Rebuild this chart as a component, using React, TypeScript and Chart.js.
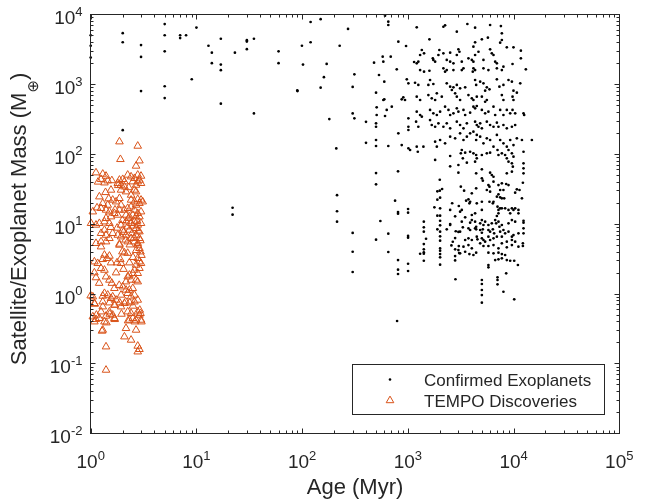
import React, { useEffect, useRef } from "react";
import { Chart, registerables } from "chart.js";

Chart.register(...registerables);

// Values, stored as [log10(age / Myr), log10(mass / M_earth)].
const exoplanetsSparse: [number, number][] = [
  [0,3.70],[0,3.55],[0,3.38],[0.303,3.73],[0.303,3.60],[0.303,2.34],[0.476,3.56],[0.476,3.39],[0.476,2.90],
  [0.70,3.86],[0.70,3.70],[0.70,3.47],[0.70,2.97],[0.70,2.80],[0.846,3.70],[0.846,3.66],[0.902,3.70],[1.00,3.81],
  [1.114,3.55],[1.146,3.45],[1.146,3.30],[1.231,3.65],[1.231,3.28],[1.231,3.20],[1.231,2.72],[0.956,3.07],
  [1.364,3.45],[1.477,3.63],[1.477,3.61],[1.544,3.65],[1.477,3.50],[1.544,2.58],[1.342,1.23],[1.342,1.13],
  [1.777,3.47],[1.777,3.30],[1.954,2.91],[1.956,2.90],[1.998,3.55],[2.008,3.28],[2.08,3.89],[2.08,3.60],
  [2.175,3.93],[2.175,2.95],[2.206,3.10],[2.232,3.29],[2.257,2.50],[2.323,2.08],[2.33,1.41],[2.33,1.18],[2.33,1.03],
  [2.355,3.55],[2.434,3.79],[2.478,2.96],[2.478,2.58],[2.494,2.51],[2.494,3.14],[2.478,0.87],[2.478,0.60],[2.478,0.31],
  [2.604,2.46],[2.604,2.16],
];

const exoplanetsLowMass: [number, number][] = [
  [3.021,2.057],[3.094,2.032],[3.40,1.971],[3.258,1.914],[3.478,1.842],[3.40,1.823],[3.478,1.732],[2.699,1.726],
  [2.907,1.752],[2.699,1.565],[3.302,1.631],[3.324,1.498],[3.279,1.465],[3.302,1.474],[3.305,1.374],[3.279,1.345],
  [3.419,1.294],[2.879,1.331],[3.002,1.212],[3.002,1.159],[2.907,1.169],[2.907,1.145],[3.251,1.236],[3.305,1.222],
  [3.40,1.198],[3.482,1.255],[3.279,1.116],[3.305,1.116],[3.447,1.107],[2.740,1.040],[3.305,1.044],[3.151,1.030],
  [3.40,0.997],[3.40,0.983],[3.305,0.978],[3.151,0.950],[3.279,0.921],[3.368,0.921],[3.453,0.893],[3.478,0.883],
  [2.815,0.858],[3.151,0.887],[3.305,0.887],[3.002,0.826],[3.002,0.801],[3.305,0.821],[3.172,0.786],[3.447,0.796],
  [2.699,0.772],[3.305,0.758],[3.425,0.743],[3.151,0.710],[3.412,0.691],[3.482,0.681],[3.305,0.648],[3.151,0.634],
  [3.447,0.634],[3.478,0.624],[3.305,0.614],[2.815,0.596],[3.116,0.571],[3.151,0.571],[3.151,0.591],[3.305,0.567],
  [3.485,0.581],[3.447,0.538],[3.305,0.520],[2.907,0.481],[3.151,0.471],[3.447,0.475],[3.002,0.428],[3.305,0.414],
  [2.907,0.343],[2.907,0.281],[3.002,0.324],[3.450,0.206],[2.898,-0.392],
];

const exoplanetsOldLower: [number, number][] = [
  [3.51,2.057],[3.542,2.018],[3.501,2.009],[3.589,2.032],[3.62,2.009],[3.646,1.985],[3.70,1.985],[3.747,2.009],
  [3.778,2.018],[3.848,2.057],[3.857,1.985],[3.889,2.009],[3.92,1.985],[3.952,2.057],[3.984,2.009],[3.999,1.961],
  [4.094,2.032],[3.52,1.938],[3.558,1.875],[3.636,1.889],[3.652,1.938],[3.936,1.938],[3.952,1.889],[3.984,1.866],
  [3.993,1.818],[4.094,1.866],[4.094,1.795],[4.094,1.723],[3.70,1.78],[3.646,1.723],[3.778,1.732],[3.794,1.699],
  [3.81,1.674],[3.936,1.723],[3.984,1.746],[3.70,1.651],[3.709,1.617],[3.81,1.603],[3.857,1.555],[3.889,1.58],
  [3.93,1.57],[3.952,1.555],[3.762,1.555],[3.772,1.531],[4.088,1.588],[3.501,1.531],[3.532,1.474],[3.646,1.508],
  [3.747,1.484],[3.778,1.46],[3.873,1.484],[3.904,1.484],[4.031,1.494],[4.056,1.484],[4.015,1.445],[3.605,1.437],
  [3.857,1.422],[3.842,1.388],[3.873,1.379],[3.889,1.365],[3.911,1.365],[4.079,1.365],[3.573,1.351],[3.589,1.316],
  [3.551,1.331],[3.582,1.293],[3.81,1.316],[3.804,1.293],[3.772,1.316],[3.652,1.293],[3.70,1.316],[3.848,1.245],
  [3.873,1.222],[3.857,1.198],[3.889,1.222],[3.92,1.222],[3.984,1.222],[3.999,1.198],[3.952,1.198],[4.015,1.222],
  [3.51,1.198],[3.494,1.173],[3.70,1.198],[3.636,1.15],[3.605,1.126],[3.857,1.15],[3.842,1.112],[3.968,1.15],
  [4.046,1.198],[4.046,1.15],[3.542,1.093],[3.51,1.03],[3.605,1.054],[3.589,1.016],[3.636,1.03],[3.70,1.054],
  [3.684,1.007],[3.731,1.03],[3.715,0.983],[3.762,0.983],[3.794,1.007],[3.826,1.054],[3.835,1.007],[3.857,1.03],
  [3.866,0.958],[3.889,0.983],[3.952,1.007],[3.984,1.054],[4.015,1.03],[4.094,1.044],[4.094,1.016],[3.494,0.887],
  [3.52,0.95],[3.573,0.935],[3.589,0.911],[3.646,0.958],[3.646,0.921],[3.636,0.935],[3.684,0.911],[3.709,0.921],
  [3.70,0.872],[3.762,0.911],[3.778,0.887],[3.804,0.921],[3.816,0.864],[3.873,0.887],[3.904,0.911],[3.92,0.864],
  [3.952,0.887],[3.999,0.839],[3.984,0.815],[4.046,0.864],[4.094,0.935],[4.094,0.864],[3.542,0.768],[3.573,0.792],
  [3.605,0.768],[3.652,0.815],[3.658,0.778],[3.70,0.792],[3.715,0.768],[3.762,0.815],[3.778,0.768],[3.81,0.792],
  [3.842,0.815],[3.889,0.815],[3.936,0.744],[3.984,0.768],[4.015,0.744],[3.526,0.672],[3.573,0.696],[3.605,0.649],
  [3.684,0.721],[3.715,0.682],[3.731,0.744],[3.762,0.682],[3.81,0.696],[3.857,0.649],[3.889,0.721],[3.936,0.663],
  [3.984,0.696],[4.046,0.672],[4.088,0.682],[4.088,0.721],[3.494,0.577],[3.542,0.60],[3.582,0.567],[3.62,0.553],
  [3.646,0.586],[3.762,0.586],[3.81,0.577],[3.857,0.586],[3.889,0.567],[3.92,0.553],[3.826,0.481],[3.857,0.491],
  [3.889,0.506],[3.936,0.481],[3.968,0.471],[4.006,0.471],[3.762,0.41],[3.762,0.377],[4.041,0.41],[3.70,0.195],
  [3.70,0.138],[3.70,0.052],[3.70,-0.02],[3.70,-0.13],[3.848,0.234],[3.848,0.195],[3.848,0.134],[3.93,0.291],
  [3.904,0.027],[4.006,-0.081],
];

const exoplanetsOldUpper: [number, number][] = [
  [2.784,3.98],[2.815,3.894],[2.815,3.847],[3.084,3.814],[3.336,3.822],[3.352,3.842],[3.463,3.751],[3.563,3.861],
  [3.636,3.808],[3.778,3.847],[3.88,3.832],[3.889,3.728],[2.91,3.608],[2.983,3.546],[3.204,3.642],[3.70,3.642],
  [3.757,3.665],[3.636,3.599],[3.889,3.632],[3.873,3.593],[3.936,3.527],[3.999,3.527],[4.069,3.479],[3.132,3.489],
  [3.153,3.441],[3.116,3.417],[3.298,3.489],[3.289,3.417],[3.336,3.441],[3.40,3.45],[3.478,3.499],[3.488,3.464],
  [3.463,3.417],[3.62,3.536],[3.668,3.464],[3.636,3.417],[3.778,3.499],[3.794,3.441],[3.81,3.417],[2.762,3.393],
  [2.768,3.321],[2.838,3.393],[2.68,3.307],[3.059,3.317],[3.084,3.298],[3.099,3.321],[3.241,3.346],[3.258,3.321],
  [3.236,3.37],[3.368,3.346],[3.40,3.321],[3.431,3.298],[3.51,3.321],[3.605,3.346],[3.62,3.321],[3.573,3.37],
  [3.715,3.346],[3.826,3.321],[3.842,3.298],[3.904,3.25],[3.99,3.288],[4.069,3.37],[2.727,3.131],
  [2.895,3.212],[3.116,3.202],[3.153,3.178],[3.204,3.192],[3.336,3.227],[3.352,3.178],[3.368,3.202],[3.431,3.202],
  [3.51,3.202],[3.526,3.227],[3.62,3.227],[3.636,3.202],[3.614,3.178],[3.715,3.227],[3.762,3.202],[3.842,3.227],
  [3.889,3.202],[4.116,3.212],[2.777,3.035],[2.99,3.069],[3.005,3.012],[3.068,3.02],[3.099,2.988],[3.21,3.059],
  [3.194,2.988],[3.241,3.002],[3.368,3.012],[3.40,2.963],[3.431,2.955],[3.416,2.916],[3.463,2.988],[3.494,2.94],
  [3.542,2.955],[3.636,3.059],[3.646,2.988],[3.684,3.035],[3.715,3.012],[3.747,2.955],[3.731,2.906],[3.772,2.926],
  [3.842,3.069],[3.866,2.963],[3.904,2.988],[3.952,3.059],[3.984,3.035],[4.063,3.012],[3.999,2.906],[4.031,2.877],
  [2.699,2.877],[2.777,2.783],[2.768,2.773],[2.942,2.783],[2.957,2.811],[2.973,2.773],[3.084,2.82],[3.116,2.773],
  [3.194,2.844],[3.226,2.797],[3.258,2.773],[3.274,2.869],[3.321,2.82],[3.447,2.869],[3.463,2.82],[3.494,2.773],
  [3.573,2.844],[3.605,2.797],[3.62,2.773],[3.652,2.82],[3.747,2.773],[3.731,2.748],[3.70,2.82],[3.889,2.844],
  [3.904,2.773],[3.99,2.82],[3.999,2.773],[2.705,2.668],[2.705,2.558],[2.848,2.677],[2.80,2.63],[2.784,2.544],
  [3.005,2.511],[3.084,2.605],[3.116,2.558],[3.132,2.534],[3.21,2.63],[3.241,2.582],[3.274,2.558],[3.305,2.605],
  [3.352,2.677],[3.384,2.63],[3.40,2.558],[3.431,2.582],[3.463,2.654],[3.478,2.605],[3.526,2.63],[3.542,2.558],
  [3.589,2.591],[3.62,2.677],[3.636,2.654],[3.652,2.687],[3.70,2.63],[3.731,2.582],[3.762,2.605],[3.81,2.677],
  [3.826,2.558],[3.873,2.63],[3.904,2.558],[3.936,2.63],[3.968,2.582],[3.99,2.63],[4.015,2.582],[4.094,2.582],
  [4.10,2.558],[2.699,2.439],[2.699,2.39],[2.91,2.296],[3.005,2.39],[3.005,2.343],[3.078,2.462],[3.099,2.39],
  [3.21,2.486],[3.226,2.415],[3.258,2.39],[3.289,2.439],[3.336,2.39],[3.368,2.439],[3.40,2.367],[3.463,2.462],
  [3.494,2.415],[3.526,2.367],[3.558,2.439],[3.636,2.462],[3.652,2.415],[3.684,2.439],[3.668,2.39],[3.70,2.367],
  [3.747,2.462],[3.778,2.415],[3.81,2.39],[3.842,2.448],[3.857,2.39],[3.904,2.415],[3.936,2.367],[3.984,2.39],
  [4.015,2.415],[2.699,2.20],[2.699,2.114],[2.815,2.114],[2.942,2.128],[3.005,2.081],[3.084,2.104],[3.147,2.104],
  [3.258,2.176],[3.305,2.20],[3.274,2.104],[3.352,2.153],[3.40,2.247],[3.447,2.224],[3.494,2.296],[3.526,2.20],
  [3.558,2.247],[3.589,2.296],[3.62,2.319],[3.652,2.272],[3.684,2.247],[3.646,2.20],[3.715,2.153],[3.747,2.224],
  [3.778,2.20],[3.81,2.104],[3.842,2.272],[3.873,2.20],[3.904,2.153],[3.936,2.104],[3.968,2.20],[3.999,2.128],
  [4.031,2.224],[4.079,2.20],[4.173,2.20],
];

const tempoDiscoveries: [number, number][] = [
  [0.272,2.176],[0.445,2.114],[0.281,1.923],[0.461,1.903],[0.429,1.828],
  [0.05,1.732],[0.114,1.713],[0.145,1.684],[0.098,1.637],[0.161,1.617],[0.13,1.588],
  [0.272,1.627],[0.303,1.637],[0.256,1.58],[0.287,1.555],[0.319,1.603],
  [0.35,1.699],[0.382,1.674],[0.414,1.651],[0.445,1.699],[0.476,1.684],[0.398,1.603],[0.445,1.603],[0.476,1.58],[0.429,1.555],[0.461,1.627],
  [0.192,1.484],[0.287,1.484],[0.319,1.531],[0.334,1.46],[0.382,1.412],[0.414,1.484],[0.429,1.46],
  [0.082,1.388],[0.114,1.293],[0.161,1.269],[0.208,1.341],[0.24,1.316],[0.272,1.365],[0.287,1.269],
  [0.382,1.341],[0.414,1.316],[0.445,1.351],[0.476,1.341],[0.461,1.293],[0.492,1.316],[0.429,1.269],
  [0.02,1.173],[0.098,1.222],[0.145,1.198],[0.177,1.173],[0.224,1.15],[0.272,1.198],[0.256,1.126],[0.192,1.102],[0.145,1.079],
  [0.319,1.198],[0.35,1.222],[0.382,1.245],[0.414,1.198],[0.445,1.15],[0.476,1.173],[0.398,1.126],[0.429,1.102],[0.366,1.102],[0.334,1.126],[0.461,1.102],
  [0.003,1.007],[0.05,0.983],[0.082,1.007],[0.13,1.03],[0.177,1.007],
  [0.287,0.983],[0.334,1.03],[0.35,0.958],[0.382,1.007],[0.414,1.03],[0.445,0.983],[0.476,1.007],
  [0.303,0.911],[0.366,0.911],[0.429,0.935],[0.461,0.887],
  [0.13,0.911],[0.098,0.864],[0.145,0.839],[0.208,0.864],[0.256,0.839],[0.177,0.792],
  [0.287,0.815],[0.334,0.839],[0.382,0.792],[0.429,0.839],[0.461,0.792],[0.35,0.744],[0.414,0.744],
  [0.05,0.721],[0.098,0.672],[0.272,0.696],[0.445,0.696],[0.461,0.649],
  [0.098,0.744],[0.145,0.744],[0.272,0.711],[0.445,0.721],
  [0.319,0.586],[0.471,0.60],[0.13,0.553],[0.177,0.539],[0.154,0.506],[0.114,0.491],[0.035,0.457],[0.066,0.434],
  [0.192,0.443],[0.249,0.443],[0.287,0.434],[0.366,0.443],[0.445,0.506],[0.461,0.457],[0.476,0.434],[0.429,0.41],[0.461,0.363],
  [0.098,0.363],[0.13,0.338],[0.035,0.30],[0.414,0.338],[0.398,0.291],[0.445,0.291],[0.366,0.267],[0.35,0.242],
  [0.382,0.195],[0.429,0.195],[0.445,0.171],[0.334,0.171],[0.145,0.242],[0.177,0.195],
  [0.224,0.076],[0.303,0.099],[0.334,0.052],[0.366,0.052],[0.398,0.076],
  [0.13,0.005],[0.114,-0.034],[0.161,-0.019],[0.192,-0.067],[0.208,-0.044],[0.24,-0.091],[0.287,-0.019],[0.02,-0.044],[0.035,-0.139],
  [0.35,0.005],[0.382,-0.044],[0.414,-0.019],[0.445,-0.091],[0.414,-0.116],
  [0.114,-0.116],[0.177,-0.13],[0.224,-0.163],[0.287,-0.187],[0.319,-0.139],[0.114,-0.187],
  [0.177,-0.259],[0.208,-0.306],[0.145,-0.32],[0.098,-0.259],
  [0.35,-0.259],[0.382,-0.282],[0.445,-0.259],[0.461,-0.306],[0.398,-0.353],[0.366,-0.378],[0.429,-0.378],[0.476,-0.378],
  [0.02,-0.33],[0.05,-0.368],[0.035,-0.402],[0.082,-0.353],[0.13,-0.402],[0.224,-0.353],
  [0.114,-0.521],[0.334,-0.497],[0.319,-0.617],[0.429,-0.521],[0.382,-0.664],[0.445,-0.75],[0.461,-0.797],[0.445,-0.832],[0.145,-0.76],[0.145,-1.094],
  [0.471,-0.282],[0.48,-0.402],[0.417,-0.402],[0.054,-0.306],[0.18,-0.292],[0.227,-0.368],[0.291,-0.292],[0.331,-0.116],[0.369,-0.13],[0.40,-0.177],[0.464,-0.235],[0.038,-0.149],[0.227,-0.163],[0.275,-0.13],[0.149,-0.416],[0.353,-0.388],[0.107,-0.535],
  [0.30,1.05],[0.36,1.08],[0.40,0.97],[0.44,1.04],[0.31,0.88],[0.39,0.86],[0.45,0.90],[0.33,0.77],[0.41,0.80],[0.37,0.70],[0.43,0.62],[0.35,0.58],[0.40,0.52],[0.25,0.94],[0.19,0.95],[0.23,1.20],[0.06,1.23],[0.17,1.36],[0.26,1.55],[0.20,1.62],[0.36,1.52],[0.07,1.60],[0.14,1.45],[0.47,0.76],[0.48,0.55],[0.30,0.60],[0.28,0.49],[0.24,0.30],[0.31,0.35],[0.20,0.15],[0.27,0.12],[0.08,0.15],[0.05,0.23],[0.00,-0.03],
];

const xTickExponents = [0, 1, 2, 3, 4, 5];
const yTickExponents = [-2, -1, 0, 1, 2, 3, 4];
const xTitle = "Age (Myr)";
const yTitleMain = "Satellite/Exoplanet Mass (M";
const yTitleSub = "\u2295";
const yTitleEnd = ")";
const legendLabels = ["Confirmed Exoplanets", "TEMPO Discoveries"];

const FONT = '"Liberation Sans", Arial, Helvetica, sans-serif';
const AXIS = "#262626";
const ORANGE = "#D95319";

const toPoints = (arr: [number, number][]) => arr.map(([a, m]) => ({ x: Math.pow(10, a), y: Math.pow(10, m) }));

function drawPower(ctx: CanvasRenderingContext2D, exp: number, x: number, baseline: number, align: "center" | "right") {
  const base = "10";
  const sup = String(exp);
  ctx.font = `19px ${FONT}`;
  const wb = ctx.measureText(base).width;
  ctx.font = `13px ${FONT}`;
  const ws = ctx.measureText(sup).width;
  const total = wb + ws;
  const start = align === "center" ? x - total / 2 : x - total;
  ctx.textAlign = "left";
  ctx.textBaseline = "alphabetic";
  ctx.font = `19px ${FONT}`;
  ctx.fillText(base, start, baseline);
  ctx.font = `13px ${FONT}`;
  ctx.fillText(sup, start + wb, baseline - 8.5);
}

const decorPlugin = {
  id: "matlabDecor",
  afterDraw(chart: any) {
    const ctx: CanvasRenderingContext2D = chart.ctx;
    const { left, right, top, bottom } = chart.chartArea;
    const xs = chart.scales.x;
    const ys = chart.scales.y;
    const L = Math.floor(left) + 0.5;
    const R = Math.floor(right) + 0.5;
    const T = Math.floor(top) + 0.5;
    const B = Math.floor(bottom) + 0.5;
    ctx.save();
    ctx.strokeStyle = AXIS;
    ctx.fillStyle = AXIS;
    ctx.lineWidth = 1;
    ctx.strokeRect(L, T, R - L, B - T);

    // ticks
    ctx.beginPath();
    for (let k = xTickExponents[0]; k <= xTickExponents[xTickExponents.length - 1]; k++) {
      for (let m = 1; m <= 9; m++) {
        if (k === xTickExponents[xTickExponents.length - 1] && m > 1) break;
        const px = Math.round(xs.getPixelForValue(m * Math.pow(10, k))) + 0.5;
        const len = m === 1 ? 5 : 3;
        ctx.moveTo(px, B); ctx.lineTo(px, B - len);
        ctx.moveTo(px, T); ctx.lineTo(px, T + len);
      }
    }
    for (let k = yTickExponents[0]; k <= yTickExponents[yTickExponents.length - 1]; k++) {
      for (let m = 1; m <= 9; m++) {
        if (k === yTickExponents[yTickExponents.length - 1] && m > 1) break;
        const py = Math.round(ys.getPixelForValue(m * Math.pow(10, k))) + 0.5;
        const len = m === 1 ? 5 : 3;
        ctx.moveTo(L, py); ctx.lineTo(L + len, py);
        ctx.moveTo(R, py); ctx.lineTo(R - len, py);
      }
    }
    ctx.stroke();

    // tick labels
    xTickExponents.forEach((e) => {
      drawPower(ctx, e, xs.getPixelForValue(Math.pow(10, e)), 468, "center");
    });
    yTickExponents.forEach((e) => {
      drawPower(ctx, e, 82.5, ys.getPixelForValue(Math.pow(10, e)) + 10, "right");
    });

    // x title
    ctx.font = `22px ${FONT}`;
    ctx.textAlign = "center";
    ctx.textBaseline = "alphabetic";
    ctx.fillText(xTitle, (left + right) / 2, 494);

    // y title (rotated)
    ctx.save();
    ctx.translate(26, 219);
    ctx.rotate(-Math.PI / 2);
    ctx.font = `22px ${FONT}`;
    const wMain = ctx.measureText(yTitleMain).width;
    const wEnd = ctx.measureText(yTitleEnd).width;
    ctx.font = `15px "DejaVu Sans", ${FONT}`;
    const wSub = ctx.measureText(yTitleSub).width;
    const total = wMain + wSub + wEnd;
    let sx = -total / 2;
    ctx.textAlign = "left";
    ctx.font = `22px ${FONT}`;
    ctx.textBaseline = "alphabetic";
    ctx.fillText(yTitleMain, sx, 0);
    sx += wMain;
    ctx.font = `15px "DejaVu Sans", ${FONT}`;
    ctx.textBaseline = "middle";
    ctx.fillText(yTitleSub, sx, 8);
    sx += wSub;
    ctx.font = `22px ${FONT}`;
    ctx.textBaseline = "alphabetic";
    ctx.fillText(yTitleEnd, sx, 0);
    ctx.restore();

    // legend
    ctx.fillStyle = "#ffffff";
    ctx.fillRect(352.5, 364.5, 252, 50);
    ctx.strokeStyle = AXIS;
    ctx.strokeRect(352.5, 364.5, 252, 50);
    ctx.fillStyle = "#000000";
    ctx.beginPath();
    ctx.arc(390, 379.5, 1.3, 0, Math.PI * 2);
    ctx.fill();
    ctx.strokeStyle = ORANGE;
    ctx.beginPath();
    const r = 4.4, tx = 390, ty = 400.5;
    ctx.moveTo(tx, ty - r);
    ctx.lineTo(tx + Math.sin((2 * Math.PI) / 3) * r, ty - Math.cos((2 * Math.PI) / 3) * r);
    ctx.lineTo(tx + Math.sin((4 * Math.PI) / 3) * r, ty - Math.cos((4 * Math.PI) / 3) * r);
    ctx.closePath();
    ctx.stroke();
    ctx.fillStyle = AXIS;
    ctx.font = `17px ${FONT}`;
    ctx.textAlign = "left";
    ctx.textBaseline = "alphabetic";
    ctx.fillText(legendLabels[0], 424, 385.5);
    ctx.fillText(legendLabels[1], 424, 407);
    ctx.restore();
  },
};

export default function App() {
  const canvasRef = useRef<HTMLCanvasElement | null>(null);
  useEffect(() => {
    if (!canvasRef.current) return;
    const exoplanets = [
      ...exoplanetsSparse,
      ...exoplanetsLowMass,
      ...exoplanetsOldLower,
      ...exoplanetsOldUpper,
    ];
    const chart = new Chart(canvasRef.current, {
      type: "scatter",
      data: {
        datasets: [
          {
            label: legendLabels[1],
            data: toPoints(tempoDiscoveries),
            pointStyle: "triangle",
            pointRadius: 4.4,
            pointBorderWidth: 1,
            borderColor: ORANGE,
            backgroundColor: "rgba(0,0,0,0)",
            clip: false,
          } as any,
          {
            label: legendLabels[0],
            data: toPoints(exoplanets),
            pointStyle: "circle",
            pointRadius: 1.35,
            pointBorderWidth: 0,
            borderColor: "#000000",
            backgroundColor: "#000000",
            clip: false,
          } as any,
        ],
      },
      options: {
        animation: false,
        responsive: false,
        devicePixelRatio: 1,
        events: [],
        layout: { padding: { left: 90.7, right: 39.7, top: 14.3, bottom: 68.7 } },
        plugins: { legend: { display: false }, tooltip: { enabled: false } },
        scales: {
          x: { type: "logarithmic", min: 1, max: 1e5, display: false },
          y: { type: "logarithmic", min: 0.01, max: 1e4, display: false },
        },
      },
      plugins: [decorPlugin],
    });
    return () => chart.destroy();
  }, []);
  return (
    <div style={{ position: "absolute", left: 0, top: 0, width: 659, height: 502, background: "#fff" }}>
      <canvas ref={canvasRef} width={659} height={502} style={{ display: "block" }} />
    </div>
  );
}
